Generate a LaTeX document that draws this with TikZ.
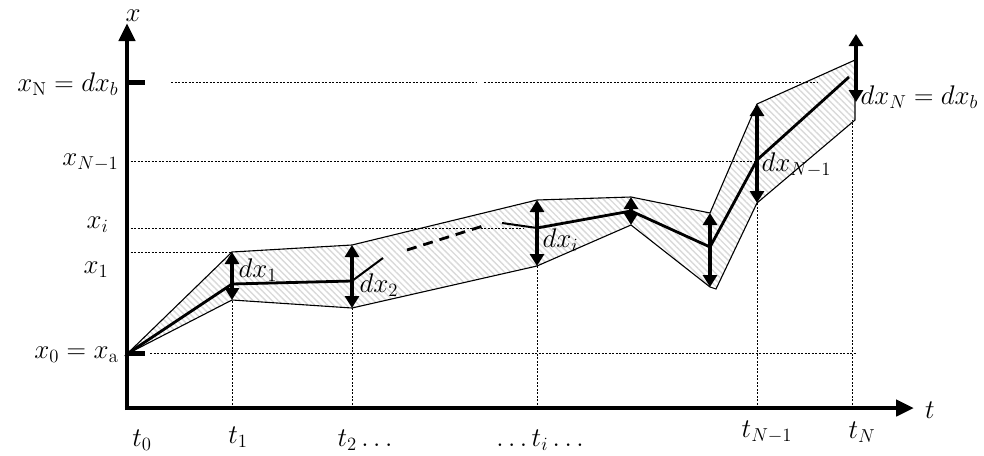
\documentclass[tikz,border=0pt]{standalone}
\usepackage{tikz}
\usetikzlibrary{arrows.meta, patterns.meta, calc}
\usepackage{amsmath}

\begin{document}
\begin{tikzpicture}[
  x=1pt, y=-1pt,
  axis/.style={line width=4.5pt, -{Triangle[length=18pt, width=16pt]}},
  guide/.style={line width=0.7pt, dash pattern=on 2pt off 1.5pt},
  spread/.style={line width=3.6pt, {Triangle[length=12pt, width=14pt]}-{Triangle[length=12pt, width=14pt]}},
  band/.style={draw, line width=1.1pt, pattern={Lines[angle=-45, distance=4.5pt, line width=1.4pt]}, pattern color=gray!30},
  mean/.style={line width=2.8pt},
  lbl/.style={font=\fontsize{20.74}{25}\selectfont, inner sep=1pt, scale=1.3, transform shape}
]
\useasboundingbox (0,0) rectangle (984,455);

% Points of the band
\coordinate (o) at (127,354);
\coordinate (u1) at (232,252);
\coordinate (l1) at (232,300);
\coordinate (u2) at (352,245);
\coordinate (l2) at (352,308);
\coordinate (ui) at (537,200);
\coordinate (li) at (537,266);
\coordinate (uk) at (631,197);
\coordinate (lk) at (631,225);
\coordinate (um) at (710,213);
\coordinate (lm) at (710,287);
\coordinate (uN1) at (757,104);
\coordinate (lN1) at (757,203);
\coordinate (uN) at (855,60);
\coordinate (lN) at (855,120);

% Band
\draw[band] (o) -- (u1) -- (u2) -- (ui) -- (uk) -- (um) -- (uN1) -- (uN) -- (lN)
  -- (lN1) -- (716,289) -- (lm) -- (lk) -- (li) -- (l2) -- (l1) -- cycle;

% Guide lines
\draw[guide] (171,82) -- (477,82);
\draw[guide] (484,82) -- (817,82);
\draw[guide] (127,161) -- (757,161);
\draw[guide] (127,228) -- (523,228);
\draw[guide] (127,252) -- (u1);
\draw[guide] (150,353) -- (857,353);
\draw[guide] (232,408) -- (l1);
\draw[guide] (352,408) -- (l2);
\draw[guide] (537,408) -- (li);
\draw[guide] (757,408) -- (lN1);
\draw[guide] (852,408) -- (852,120);

% Mean path
\coordinate (m1) at (232,284);
\coordinate (m2) at (352,281);
\coordinate (mi) at (537,228);
\coordinate (mk) at (631,211);
\coordinate (mm) at (710,247);
\coordinate (mN1) at (757,160);
\coordinate (mN) at (849,77);
\draw[mean] (o) -- (m1) -- (m2);
\draw[line width=2pt] (m2) -- (383,258);
\draw[mean, dash pattern=on 10pt off 7pt] (407,250) -- (483,226);
\draw[line width=2pt] (502,223) -- (mi);
\draw[mean] (mi) -- (mk) -- (mm) -- (mN1) -- (mN);

% Spreads
\draw[spread] (u1) -- (l1);
\draw[spread] (u2) -- (l2);
\draw[spread] (ui) -- (li);
\draw[spread] (uk) -- (lk);
\draw[spread] (um) -- (lm);
\draw[spread] (uN1) -- (lN1);
\draw[spread] (856,34) -- (856,102);

% Axes
\draw[axis] (127,410) -- (127,23);
\draw[axis] (124.75,408) -- (914,408);
\draw[line width=5pt] (127,82) -- (145,82);
\draw[line width=5pt] (127,353) -- (145,353);

% Axis labels
\node[lbl] (xl) at (133,16) {$x$};
\node[lbl] (tl) at (930,410) {$t$};
\node[lbl, anchor=east] (xN) at (120,84) {$x_{\mathrm{N}} = dx_b$};
\node[lbl, anchor=east] (xN1) at (120,162) {$x_{N-1}$};
\node[lbl, anchor=east] (xi) at (110,225) {$x_i$};
\node[lbl, anchor=east] (x1) at (110,270) {$x_1$};
\node[lbl, anchor=east] (x0) at (120,355) {$x_0 = x_{\mathrm{a}}$};
\node[lbl] (t0) at (142,440) {$t_0$};
\node[lbl] (t1) at (238,437) {$t_1$};
\node[lbl] (t2) at (365,440) {$t_2 \ldots$};
\node[lbl] (ti) at (540,440) {$\ldots t_i \ldots$};
\node[lbl] (tN1) at (767,432) {$t_{N-1}$};
\node[lbl] (tN) at (862,432) {$t_N$};

% Spread labels
\node[lbl, anchor=west] (d1) at (237,270) {$dx_1$};
\node[lbl, anchor=west] (d2) at (358,285) {$dx_2$};
\node[lbl, anchor=west] (di) at (541,240) {$dx_i$};
\node[lbl, anchor=west] (dN1) at (760,165) {$dx_{N-1}$};
\node[lbl, anchor=west] (dN) at (859,97) {$dx_N = dx_b$};

\end{tikzpicture}
\end{document}
